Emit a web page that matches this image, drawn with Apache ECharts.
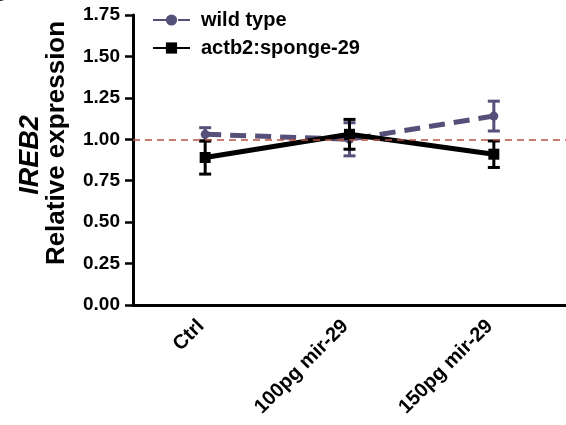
<!DOCTYPE html>
<html><head><meta charset="utf-8">
<script src="https://cdn.jsdelivr.net/npm/echarts@6/dist/echarts.min.js"></script>
<style>html,body{margin:0;padding:0;background:#fff}#c{width:566px;height:425px}</style>
</head><body><div id="c"></div>
<script>
var categories = ['Ctrl', '100pg mir-29', '150pg mir-29'];
var wildMean = [1.03, 1.00, 1.14];
var wildErr = [0.04, 0.10, 0.09];
var spongeMean = [0.89, 1.03, 0.91];
var spongeErr = [0.10, 0.09, 0.08];
var yTicks = ['0.00', '0.25', '0.50', '0.75', '1.00', '1.25', '1.50', '1.75'];
var refLevel = 1.0;

var wildColor = '#555079';
var spongeColor = '#000000';
var font = 'Liberation Sans, Arial, sans-serif';

function errSeries(name, mean, err, color, width, z) {
  var d = mean.map(function (m, i) { return [i, m - err[i], m + err[i]]; });
  return {
    type: 'custom', name: name + ' err', data: d, z: z, silent: true,
    renderItem: function (params, api) {
      var lo = api.coord([api.value(0), api.value(1)]);
      var hi = api.coord([api.value(0), api.value(2)]);
      var hw = 6;
      var st = { stroke: color, lineWidth: width };
      return { type: 'group', children: [
        { type: 'line', shape: { x1: lo[0], y1: lo[1], x2: hi[0], y2: hi[1] }, style: st },
        { type: 'line', shape: { x1: lo[0] - hw, y1: lo[1], x2: lo[0] + hw, y2: lo[1] }, style: st },
        { type: 'line', shape: { x1: hi[0] - hw, y1: hi[1], x2: hi[0] + hw, y2: hi[1] }, style: st }
      ]};
    }
  };
}

var chart = echarts.init(document.getElementById('c'), null, { renderer: 'canvas' });
chart.setOption({
  animation: false,
  grid: { left: 133, top: 15, width: 435, height: 290, containLabel: false },
  legend: {
    left: 147, top: 5, orient: 'vertical', itemGap: 8, itemWidth: 37, itemHeight: 14,
    textStyle: { fontFamily: font, fontWeight: 'bold', fontSize: 20, color: '#000', padding: [0, 0, 0, 6] },
    data: ['wild type', 'actb2:sponge-29']
  },
  xAxis: {
    type: 'category', data: categories, boundaryGap: true,
    axisLine: { lineStyle: { color: '#000', width: 3 } },
    axisTick: { show: false },
    axisLabel: { rotate: 45, margin: 14, padding: [0, 6, 0, 0], color: '#000', fontFamily: font, fontWeight: 'bold', fontSize: 20 }
  },
  yAxis: {
    type: 'value', min: 0, max: 1.75, interval: 0.25,
    splitLine: { show: false },
    axisLine: { show: true, lineStyle: { color: '#000', width: 3 } },
    axisTick: { show: true, length: 8, lineStyle: { color: '#000', width: 2.5 } },
    axisLabel: { margin: 13, color: '#000', fontFamily: font, fontWeight: 'bold', fontSize: 19,
      formatter: function (v) { return yTicks[Math.round(v / 0.25)]; } }
  },
  series: [
    {
      name: 'wild type', type: 'line', data: wildMean, z: 3,
      symbol: 'circle', symbolSize: 9,
      itemStyle: { color: wildColor },
      lineStyle: { color: wildColor, width: 5, type: [16, 9] },
      markLine: {
        silent: true, symbol: 'none', label: { show: false },
        lineStyle: { color: '#b8533f', width: 1.5, type: [7, 5] },
        data: [{ yAxis: refLevel }]
      }
    },
    {
      name: 'actb2:sponge-29', type: 'line', data: spongeMean, z: 4,
      symbol: 'rect', symbolSize: 11,
      itemStyle: { color: spongeColor },
      lineStyle: { color: spongeColor, width: 5 }
    },
    errSeries('wild type', wildMean, wildErr, wildColor, 3, 3),
    errSeries('actb2:sponge-29', spongeMean, spongeErr, spongeColor, 3, 4)
  ],
  graphic: [
    { type: 'text', x: 31, y: 155, rotation: Math.PI / 2,
      style: { text: 'IREB2', align: 'center', verticalAlign: 'middle', fontFamily: font, fontWeight: 'bold', fontStyle: 'italic', fontSize: 27, fill: '#000' } },
    { type: 'text', x: 57, y: 143, rotation: Math.PI / 2,
      style: { text: 'Relative expression', align: 'center', verticalAlign: 'middle', fontFamily: font, fontWeight: 'bold', fontSize: 26, fill: '#000' } },
    { type: 'text', x: -12, y: -22,
      style: { text: 'C', fontFamily: font, fontWeight: 'bold', fontSize: 30, fill: '#000' } }
  ]
});
</script></body></html>
